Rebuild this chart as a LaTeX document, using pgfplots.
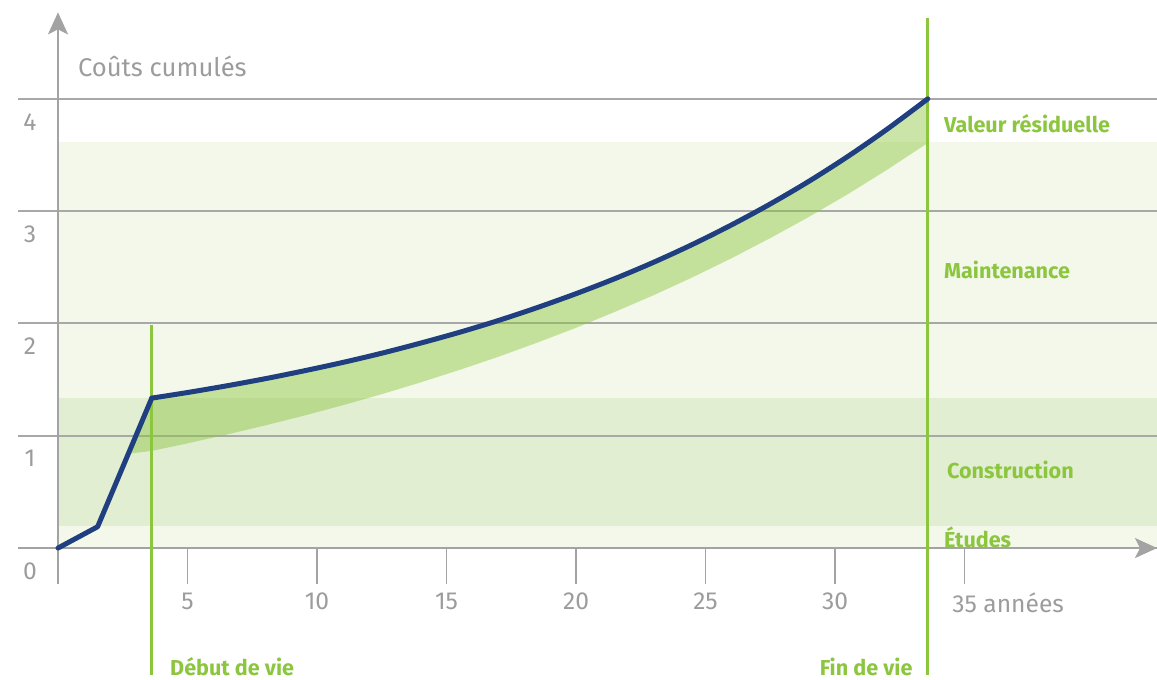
\documentclass[border=0pt]{standalone}
\usepackage{fontspec}
\setmainfont{Fira Sans}
\usepackage{pgfplots}
\pgfplotsset{compat=1.18}
\usetikzlibrary{arrows.meta}
\definecolor{axisgray}{HTML}{A3A3A3}
\definecolor{gridgray}{HTML}{A8A8A8}
\definecolor{textgray}{HTML}{9C9C9C}
\definecolor{bandlight}{HTML}{F3F8EA}
\definecolor{bandmid}{HTML}{E1EED2}
\definecolor{lgreen}{HTML}{8CC63F}
\definecolor{navy}{HTML}{1F3F80}
\begin{document}
\begin{tikzpicture}
\begin{axis}[
  set layers,
  x=12.95pt, y=56.15pt,
  xmin=-1.54, xmax=42.43, ymin=-0.32, ymax=4.77,
  axis lines=middle,
  axis line style={draw=axisgray, line width=1pt, -{Stealth[length=11pt,width=10pt,inset=2.5pt]}},
  clip=false,
  xtick={5,10,...,35},
  xticklabels={5,10,15,20,25,30,35\rlap{ années}},
  ytick={0,1,2,3,4},
  tick align=outside,
  major tick length=18pt,
  xtick style={draw=axisgray, line width=0.8pt},
  ytick style={draw=none},
  ymajorgrids,
  major grid style={draw=gridgray, line width=1pt},
  tick label style={text=textgray, font=\fontsize{12.3}{14}\selectfont},
  xticklabel style={yshift=-1pt},
  yticklabel style={anchor=center, xshift=4pt, yshift=-11.5pt},
  hide obscured x ticks=false, hide obscured y ticks=false,
  /pgf/number format/assume math mode=true,
]
% phase bands
\addplot[draw=none, fill=bandlight, on layer=axis background] coordinates {(0,0) (42.43,0) (42.43,0.195) (0,0.195)};
\addplot[draw=none, fill=bandmid, on layer=axis background] coordinates {(0,0.195) (42.43,0.195) (42.43,1.335) (0,1.335)};
\addplot[draw=none, fill=bandlight, on layer=axis background] coordinates {(0,1.335) (42.43,1.335) (42.43,3.62) (0,3.62)};
% uncertainty band (upper = cost curve, lower = low estimate)
\addplot[draw=none, fill=lgreen, fill opacity=0.45] coordinates {
(2.72,0.84) (3.62,1.335) (5,1.385) (6.5,1.444) (8,1.508) (9.5,1.578) (11,1.653)
(12.5,1.735) (14,1.825) (15.5,1.921) (17,2.026) (18.5,2.141) (20,2.265)
(21.5,2.399) (23,2.545) (24.5,2.704) (26,2.877) (27.5,3.064) (29,3.267)
(30.5,3.488) (32,3.728) (33.58,4.0)
(33.58,3.607) (32,3.367) (30.5,3.152) (29,2.950) (27.5,2.760) (26,2.580)
(24.5,2.411) (23,2.252) (21.5,2.103) (20,1.961) (18.5,1.829) (17,1.703)
(15.5,1.586) (14,1.475) (12.5,1.370) (11,1.272) (9.5,1.179) (8,1.092)
(6.5,1.010) (5,0.932) (3.62,0.865)};
% vertical markers
\addplot[draw=lgreen, line width=1.5pt] coordinates {(3.62,1.985) (3.62,-1.13)};
\addplot[draw=lgreen, line width=1.5pt] coordinates {(33.58,4.72) (33.58,-1.13)};
% cost curve
\addplot[draw=navy, line width=2.5pt, line join=round, line cap=round] coordinates {
(0,0) (1.53,0.19) (3.62,1.335)};
\addplot[draw=navy, line width=2.5pt, line cap=round, smooth] coordinates {
(3.62,1.335) (5,1.385) (6.5,1.444) (8,1.508) (9.5,1.578) (11,1.653)
(12.5,1.735) (14,1.825) (15.5,1.921) (17,2.026) (18.5,2.141) (20,2.265)
(21.5,2.399) (23,2.545) (24.5,2.704) (26,2.877) (27.5,3.064) (29,3.267)
(30.5,3.488) (32,3.728) (33.58,4.0)};
% texts
\node[anchor=west, text=textgray, font=\fontsize{12.8}{15}\selectfont] at (axis cs:0.5,4.29) {Coûts cumulés};
\begin{scope}[every node/.style={text=lgreen, font=\bfseries\fontsize{10.8}{12}\selectfont}]
\node[anchor=west] at (axis cs:33.94,3.78) {Valeur résiduelle};
\node[anchor=west] at (axis cs:33.94,2.475) {Maintenance};
\node[anchor=west] at (axis cs:34.05,0.695) {Construction};
\node[anchor=west] at (axis cs:33.94,0.098) {Études};
\node[anchor=west] at (axis cs:4.06,-1.06) {Début de vie};
\node[anchor=east] at (axis cs:33.26,-1.06) {Fin de vie};
\end{scope}
\coordinate (bbSW) at (axis cs:-2.239,-1.1665);
\coordinate (bbNE) at (axis cs:42.43,4.880);
\end{axis}
\pgfresetboundingbox
\path[use as bounding box] (bbSW) rectangle (bbNE);
\end{tikzpicture}
\end{document}
